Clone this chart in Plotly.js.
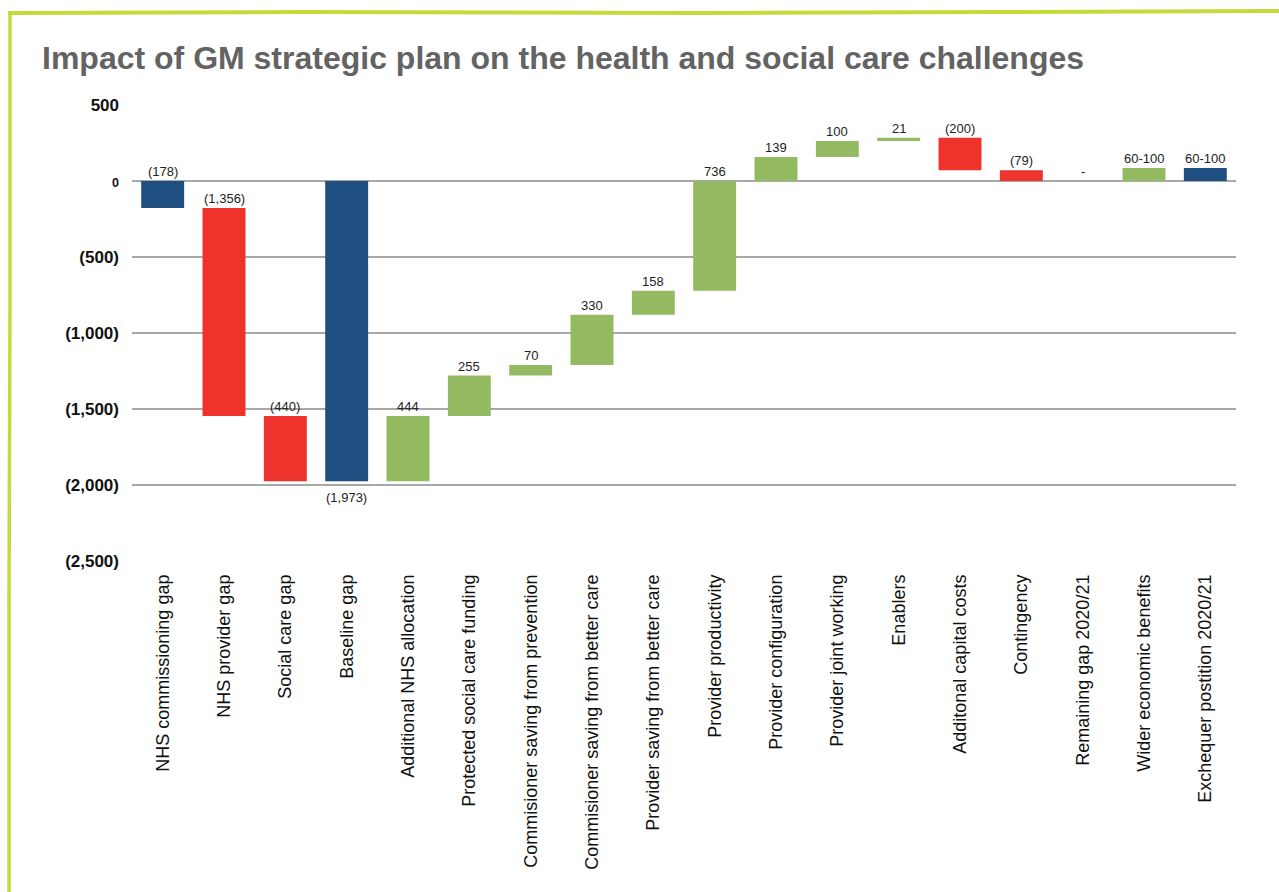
<!DOCTYPE html>
<html>
<head>
<meta charset="utf-8">
<script src="https://cdn.plot.ly/plotly-3.0.1.min.js"></script>
<style>
  html, body { margin: 0; padding: 0; background: #ffffff; }
  #chart { width: 1279px; height: 892px; }
</style>
</head>
<body>
<div id="chart"></div>
<script>
// ---- data ----
const categories = [
  "NHS commissioning gap", "NHS provider gap", "Social care gap", "Baseline gap",
  "Additional NHS allocation", "Protected social care funding",
  "Commisioner saving from prevention", "Commisioner saving from better care",
  "Provider saving from better care", "Provider productivity", "Provider configuration",
  "Provider joint working", "Enablers", "Additonal capital costs", "Contingency",
  "Remaining gap 2020/21", "Wider economic benefits", "Exchequer postition 2020/21"
];
const barStart = [0, -178, -1546, 0, -1975, -1546, -1280, -1210, -880, -722, 0, 158, 263, 284, 70, 0, 0, 0];
const barEnd   = [-178, -1546, -1975, -1975, -1546, -1280, -1210, -880, -722, 0, 158, 263, 284, 70, 0, 0, 85, 85];
const barKind  = ["total", "decrease", "decrease", "total", "increase", "increase", "increase", "increase",
                  "increase", "increase", "increase", "increase", "increase", "decrease", "decrease",
                  "none", "increase", "total"];
const valueLabels = ["(178)", "(1,356)", "(440)", "(1,973)", "444", "255", "70", "330", "158", "736",
                     "139", "100", "21", "(200)", "(79)", "-", "60-100", "60-100"];
const labelBelow = ["Baseline gap"];
const yTickVals = [500, 0, -500, -1000, -1500, -2000, -2500];
const yTickText = ["500", "0", "(500)", "(1,000)", "(1,500)", "(2,000)", "(2,500)"];
const titleText = "Impact of GM strategic plan on the health and social care challenges";

// ---- styling ----
const kindColor = { total: "#1e4f80", decrease: "#ee322c", increase: "#95bb62", none: "rgba(0,0,0,0)" };
const FONT = "'Liberation Sans', Arial, Helvetica, sans-serif";
const W = 1279, H = 892;
const M = { l: 132, r: 43, t: 105, b: 331 };
const pw = W - M.l - M.r, ph = H - M.t - M.b;
const px2x = p => (p - M.l) / pw;
const py2y = p => (H - M.b - p) / ph;

const trace = {
  type: "bar",
  x: categories,
  base: barStart,
  y: barEnd.map((e, i) => e - barStart[i]),
  width: 0.7,
  marker: { color: barKind.map(k => kindColor[k]), line: { width: 0 } },
  hoverinfo: "skip",
  showlegend: false
};

const annotations = categories.map((c, i) => {
  const below = labelBelow.includes(c);
  return {
    x: c, xref: "x", yref: "y",
    y: below ? Math.min(barStart[i], barEnd[i]) : Math.max(barStart[i], barEnd[i]),
    text: valueLabels[i],
    showarrow: false,
    yanchor: below ? "top" : "bottom",
    yshift: below ? -7 : 0,
    font: { family: FONT, size: 13, color: "#222222" }
  };
});

const tickText = yTickText.map(t => t === "0" ? '<span style="font-size:12.5px">0</span>' : t);

const border = "#c3da3a";
const shapes = [
  { type: "path", xref: "paper", yref: "paper", layer: "above",
    path: `M ${px2x(8)},${py2y(13)} L ${px2x(300)},${py2y(12)} L ${px2x(700)},${py2y(13)} L ${px2x(1000)},${py2y(12)} L ${px2x(1279)},${py2y(11)}`,
    line: { color: border, width: 4 } },
  { type: "path", xref: "paper", yref: "paper", layer: "above",
    path: `M ${px2x(10)},${py2y(11)} L ${px2x(10)},${py2y(300)} L ${px2x(9)},${py2y(600)} L ${px2x(9)},${py2y(892)}`,
    line: { color: border, width: 3.5 } }
];

const layout = {
  width: W, height: H,
  margin: M,
  paper_bgcolor: "#ffffff", plot_bgcolor: "#ffffff",
  font: { family: FONT },
  title: {
    text: titleText,
    xref: "container", yref: "container",
    x: 42 / W, xanchor: "left",
    y: 1 - 58 / H, yanchor: "middle",
    font: { family: FONT, size: 32, color: "#636363", weight: 700 }
  },
  xaxis: {
    type: "category",
    tickangle: -90,
    ticks: "",
    showgrid: false, zeroline: false, showline: false,
    ticklabelstandoff: 9,
    tickfont: { family: FONT, size: 18, color: "#111111" },
    fixedrange: true
  },
  yaxis: {
    range: [-2500, 500],
    tickvals: yTickVals, ticktext: tickText,
    ticks: "",
    showgrid: true, gridcolor: "#a8a8a8", gridwidth: 1.5,
    zeroline: false, showline: false,
    ticklabelstandoff: 12,
    tickfont: { family: FONT, size: 17, color: "#111111", weight: 700 },
    fixedrange: true
  },
  bargap: 0.3,
  annotations: annotations,
  shapes: shapes
};

Plotly.newPlot("chart", [trace], layout, { displayModeBar: false, staticPlot: true });
</script>
</body>
</html>
